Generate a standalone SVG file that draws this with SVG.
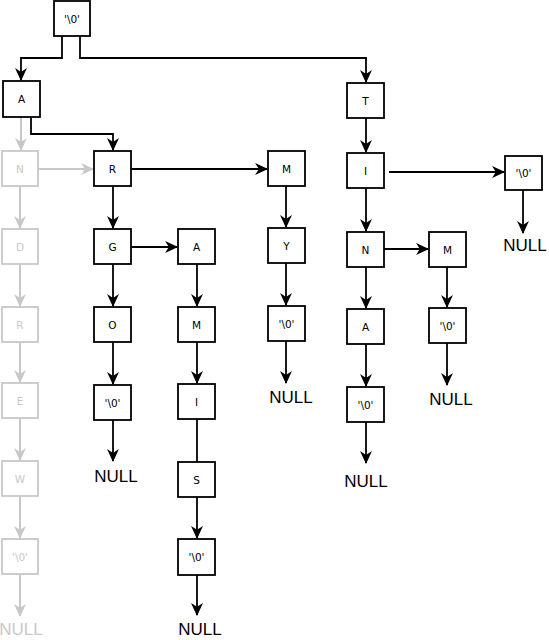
<svg xmlns="http://www.w3.org/2000/svg" width="549" height="640" viewBox="0 0 549 640">
<defs>
<style>
.n rect{fill:#fff;stroke:#000;stroke-width:1.8}
.n text{font-family:"DejaVu Sans",Verdana,sans-serif;font-size:10.5px;fill:#000;text-anchor:middle;dominant-baseline:central}
.g rect{stroke:#c8c8c8}
.g text{fill:#c8c8c8}
.null{font-family:"Liberation Sans",Arial,sans-serif;font-size:17px;text-anchor:middle;fill:#000}
.null.gr{fill:#c8c8c8}
.c path{fill:none;stroke:#000;stroke-width:1.8}
.c path.a{marker-end:url(#ah)}
.c path.gl{stroke:#c8c8c8;stroke-width:2}
.c path.ga{marker-end:url(#gah)}
</style>
<marker id="ah" viewBox="0 0 12 12" refX="11" refY="6" markerWidth="13" markerHeight="13" markerUnits="userSpaceOnUse" orient="auto">
<path d="M0,0.5 L12,6 L0,11.5 L3.5,6 Z" fill="#000"/>
</marker>
<marker id="gah" viewBox="0 0 12 12" refX="11" refY="6" markerWidth="13" markerHeight="13" markerUnits="userSpaceOnUse" orient="auto">
<path d="M0,0.5 L12,6 L0,11.5 L3.5,6 Z" fill="#c8c8c8"/>
</marker>
</defs>
<rect width="549" height="640" fill="#fff"/>
<g id="connectors" class="c">
<path class="gl ga" d="M21,117 V150"/>
<path class="gl ga" d="M38,169 H93"/>
<path class="gl ga" d="M20,186 V228"/>
<path class="gl ga" d="M20,264 V306"/>
<path class="gl ga" d="M20,342 V382"/>
<path class="gl ga" d="M20,418 V460"/>
<path class="gl ga" d="M20,496 V538"/>
<path class="gl ga" d="M20,574 V616"/>
<path class="a" d="M62,36 V58 H21 V80"/>
<path class="a" d="M80,36 V58 H366 V82"/>
<path class="a" d="M31,117 V134 H113 V150"/>
<path class="a" d="M131,169 H267"/>
<path class="a" d="M113,186 V228"/>
<path class="a" d="M131,247 H177"/>
<path class="a" d="M113,264 V306"/>
<path class="a" d="M113,342 V384"/>
<path class="a" d="M113,420 V461"/>
<path class="a" d="M197,264 V306"/>
<path class="a" d="M197,342 V383"/>
<path d="M197,419 V462"/>
<path class="a" d="M197,497 V538"/>
<path class="a" d="M197,575 V615"/>
<path class="a" d="M286,186 V227"/>
<path class="a" d="M286,263 V305"/>
<path class="a" d="M286,341 V383"/>
<path class="a" d="M366,118 V152"/>
<path class="a" d="M389,172 H504"/>
<path class="a" d="M523,190 V233"/>
<path class="a" d="M366,188 V231"/>
<path class="a" d="M384,249 H428"/>
<path class="a" d="M366,267 V308"/>
<path class="a" d="M366,344 V386"/>
<path class="a" d="M366,422 V463"/>
<path class="a" d="M447,267 V307"/>
<path class="a" d="M447,343 V385"/>
</g>
<g id="root" class="n"><rect x="54" y="1" width="36" height="35"/><text x="72" y="19">'\0'</text></g>
<g id="A1" class="n"><rect x="3" y="81" width="37" height="36"/><text x="21.5" y="99">A</text></g>
<g id="T" class="n"><rect x="347" y="83" width="37" height="35"/><text x="365.5" y="100.5">T</text></g>
<g id="gN" class="n g"><rect x="2" y="151" width="36" height="35"/><text x="20" y="168.5">N</text></g>
<g id="gD" class="n g"><rect x="2" y="229" width="36" height="35"/><text x="20" y="246.5">D</text></g>
<g id="gR" class="n g"><rect x="2" y="307" width="36" height="35"/><text x="20" y="324.5">R</text></g>
<g id="gE" class="n g"><rect x="2" y="383" width="36" height="35"/><text x="20" y="400.5">E</text></g>
<g id="gW" class="n g"><rect x="2" y="461" width="36" height="35"/><text x="20" y="478.5">W</text></g>
<g id="gEnd" class="n g"><rect x="2" y="539" width="36" height="35"/><text x="20" y="556.5">'\0'</text></g>
<g id="R" class="n"><rect x="94" y="151" width="37" height="35"/><text x="112.5" y="168.5">R</text></g>
<g id="G" class="n"><rect x="94" y="229" width="37" height="35"/><text x="112.5" y="246.5">G</text></g>
<g id="O" class="n"><rect x="94" y="307" width="37" height="35"/><text x="112.5" y="324.5">O</text></g>
<g id="OEnd" class="n"><rect x="94" y="385" width="37" height="35"/><text x="112.5" y="402.5">'\0'</text></g>
<g id="A2" class="n"><rect x="178" y="229" width="37" height="35"/><text x="196.5" y="246.5">A</text></g>
<g id="M2" class="n"><rect x="178" y="307" width="37" height="35"/><text x="196.5" y="324.5">M</text></g>
<g id="I2" class="n"><rect x="178" y="384" width="37" height="35"/><text x="196.5" y="401.5">I</text></g>
<g id="S" class="n"><rect x="178" y="462" width="37" height="35"/><text x="196.5" y="479.5">S</text></g>
<g id="SEnd" class="n"><rect x="178" y="539" width="37" height="36"/><text x="196.5" y="557">'\0'</text></g>
<g id="M1" class="n"><rect x="268" y="151" width="37" height="35"/><text x="286.5" y="168.5">M</text></g>
<g id="Y" class="n"><rect x="268" y="228" width="37" height="35"/><text x="286.5" y="245.5">Y</text></g>
<g id="YEnd" class="n"><rect x="268" y="306" width="37" height="35"/><text x="286.5" y="323.5">'\0'</text></g>
<g id="I1" class="n"><rect x="347" y="153" width="37" height="35"/><text x="365.5" y="170.5">I</text></g>
<g id="IEnd" class="n"><rect x="505" y="156" width="37" height="34"/><text x="523.5" y="173">'\0'</text></g>
<g id="N1" class="n"><rect x="347" y="232" width="37" height="35"/><text x="365.5" y="249.5">N</text></g>
<g id="A3" class="n"><rect x="347" y="309" width="37" height="35"/><text x="365.5" y="326.5">A</text></g>
<g id="AEnd" class="n"><rect x="347" y="387" width="37" height="35"/><text x="365.5" y="404.5">'\0'</text></g>
<g id="M3" class="n"><rect x="429" y="232" width="37" height="35"/><text x="447.5" y="249.5">M</text></g>
<g id="MEnd" class="n"><rect x="429" y="308" width="37" height="35"/><text x="447.5" y="325.5">'\0'</text></g>
<g id="nulls">
<text class="null gr" x="21" y="635">NULL</text>
<text class="null" x="116" y="482">NULL</text>
<text class="null" x="200" y="635">NULL</text>
<text class="null" x="291" y="403">NULL</text>
<text class="null" x="366" y="487">NULL</text>
<text class="null" x="451" y="405">NULL</text>
<text class="null" x="525" y="251">NULL</text>
</g>
</svg>
